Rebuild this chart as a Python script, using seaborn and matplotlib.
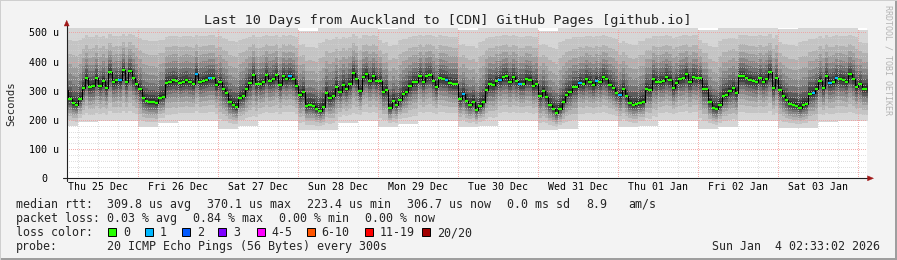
import numpy as np
import matplotlib
matplotlib.use("Agg")
import matplotlib.pyplot as plt
import matplotlib.transforms as mtransforms
from matplotlib.patches import Polygon, Rectangle
from matplotlib.ticker import FixedLocator, MultipleLocator
import seaborn as sns

# ---------------- data ----------------
# hourly median RTT in microseconds; first sample = hour 2 after Thu 25 Dec 00:00
FIRST_HOUR = 2
median_rtt = [
    304, 272, 257, 252, 272, 310, 344, 314, 317, 344,
    317, 334, 310, 365, 330, 336, 336, 372, 330, 368,
    344, 322, 305, 276, 266, 261, 261, 257, 276, 279,
    327, 331, 336, 334, 327, 331, 336, 330, 324, 358,
    330, 334, 338, 344, 344, 320, 330, 307, 293, 262,
    252, 245, 276, 283, 307, 327, 355, 324, 324, 330,
    355, 334, 341, 355, 320, 351, 341, 351, 341, 317,
    286, 297, 249, 252, 249, 238, 232, 245, 293, 276,
    283, 314, 297, 320, 307, 324, 362, 341, 300, 348,
    358, 334, 351, 334, 334, 297, 303, 242, 266, 252,
    269, 290, 297, 317, 331, 331, 351, 331, 351, 355,
    334, 314, 344, 341, 338, 327, 324, 324, 273, 290,
    266, 252, 262, 235, 249, 262, 303, 324, 320, 334,
    338, 348, 351, 331, 348, 334, 324, 324, 341, 338,
    317, 324, 283, 300, 279, 252, 238, 225, 238, 262,
    286, 297, 314, 314, 327, 324, 341, 331, 320, 334,
    331, 348, 341, 320, 310, 293, 286, 307, 283, 259,
    252, 255, 259, 262, 307, 303, 341, 331, 331, 334,
    348, 338, 310, 327, 341, 344, 358, 331, 348, 344,
    344, 307, 307, 262, 242, 238, 252, 283, 286, 300,
    310, 293, 351, 351, 344, 338, 334, 331, 344, 331,
    341, 365, 310, 344, 303, 283, 269, 255, 252, 249,
    242, 252, 255, 290, 293, 307, 334, 310, 351, 327,
    331, 344, 341, 338, 331, 358, 341, 314, 324, 307,
    307,
]
# hours (since Thu 25 Dec 00:00) with 1/20 packets lost
loss_one_hours = [18, 41, 45, 69, 116, 121, 132, 138, 156, 161, 168, 226, 231, 233]

# smoke extent per 6-hour block (lowest / highest ping, microseconds)
smoke_low = [180, 192, 195, 195, 175, 190, 197, 197, 170, 180,
             195, 197, 165, 165, 190, 195, 175, 185, 197, 197,
             175, 180, 197, 197, 165, 170, 195, 195, 175, 180,
             197, 197, 170, 175, 195, 195, 172, 172, 192, 195, 195]
smoke_high = [530, 530, 530, 530, 530, 530, 530, 530, 530, 530,
              530, 530, 505, 530, 530, 530, 512, 530, 530, 530,
              508, 530, 530, 530, 505, 530, 530, 530, 515, 530,
              530, 530, 508, 530, 530, 530, 512, 530, 530, 530, 508]

day_labels = ["Thu 25 Dec", "Fri 26 Dec", "Sat 27 Dec", "Sun 28 Dec", "Mon 29 Dec",
              "Tue 30 Dec", "Wed 31 Dec", "Thu 01 Jan", "Fri 02 Jan", "Sat 03 Jan"]
ytick_values = [0, 100, 200, 300, 400, 500]
ytick_labels = ["0", "100 u", "200 u", "300 u", "400 u", "500 u"]

title = "Last 10 Days from Auckland to [CDN] GitHub Pages [github.io]"
rtt_stats = ["309.8 us avg", "370.1 us max", "223.4 us min", "306.7 us now", "0.0 ms sd", "8.9", "am/s"]
loss_stats = ["0.03 % avg", "0.84 % max", "0.00 % min", "0.00 % now"]
loss_legend = ["0", "1", "2", "3", "4-5", "6-10", "11-19", "20/20"]
loss_colors = ["#26ff00", "#00b8ff", "#0059ff", "#7e00ff", "#ff00ff", "#ff5500", "#ff0000", "#a10000"]
probe_text = "20 ICMP Echo Pings (56 Bytes) every 300s"
stamp_text = "Sun Jan  4 02:33:02 2026"

# ---------------- styling constants ----------------
W, H = 897, 260
sns.set_style("white")
plt.rcParams["font.family"] = ["DejaVu Sans Mono", "DejaVu Sans"]
BG = "#f3f3f3"
MONO = "DejaVu Sans Mono"

def fx(x):
    return x / W

def fy(y):
    return 1 - y / H

fig = plt.figure(figsize=(W / 100, H / 100), dpi=100, facecolor=BG)
AX_L, AX_T, AX_W, AX_H = 66.7, 28.3, 800.0, 150.0
ax = fig.add_axes([fx(AX_L), fy(AX_T + AX_H), AX_W / W, AX_H / H])
ax.set_facecolor("white")
PX_PER_U = 0.292
ax.set_xlim(2.55, 242.55)
ax.set_ylim(0, AX_H / PX_PER_U)

# ---------------- smoke ----------------
med = np.array(median_rtt, dtype=float)
n = len(med)
hours = FIRST_HOUR + np.arange(n)
blk = hours // 6
lo = np.array(smoke_low, dtype=float)[blk]
hi = np.array(smoke_high, dtype=float)[blk]
edges = np.append(hours, hours[-1] + 1)

# relative spread of the ping ranks (outer -> inner) and their shades
frac_lo = [1.0, 0.80, 0.64, 0.51, 0.40, 0.30, 0.21, 0.13, 0.06]
frac_hi = [1.0, 0.78, 0.60, 0.46, 0.34, 0.24, 0.16, 0.09, 0.04]
shades = ["#d6d6d6", "#c4c4c4", "#b1b1b1", "#9d9d9d", "#888888",
          "#727272", "#5b5b5b", "#444444", "#2c2c2c"]
for fl, fh, c in zip(frac_lo, frac_hi, shades):
    lower = med - (med - lo) * fl
    upper = med + (hi - med) * fh
    ax.fill_between(edges, np.append(lower, lower[-1]), np.append(upper, upper[-1]),
                    step="post", color=c, lw=0, zorder=1)

# ---------------- median ----------------
sns.lineplot(x=edges, y=np.append(med, med[-1]), drawstyle="steps-post",
             color="#000000", lw=0.75, estimator=None, sort=False, ax=ax, zorder=4)
seg_colors = [loss_colors[1] if h in loss_one_hours else loss_colors[0] for h in hours]
ax.hlines(med, hours, hours + 1, colors=seg_colors, lw=1.6, zorder=5, capstyle="butt")

# ---------------- grid ----------------
ax.yaxis.set_major_locator(FixedLocator(ytick_values))
ax.yaxis.set_minor_locator(MultipleLocator(20))
ax.xaxis.set_major_locator(FixedLocator(list(range(24, 241, 24))))
ax.xaxis.set_minor_locator(FixedLocator([h for h in range(6, 243, 6) if h % 24]))
ax.set_axisbelow(False)
ax.grid(which="minor", color="#d2d2d2", ls=(0, (1, 2)), lw=0.72, antialiased=False, alpha=0.7)
ax.grid(which="major", color="#f29a9a", ls=(0, (1, 2)), lw=0.72, antialiased=False, alpha=0.8)
ax.set_xticklabels([])
ax.set_yticklabels([])
ax.tick_params(axis="y", which="major", direction="out", length=3, width=0.7, color="#555555")
ax.tick_params(axis="y", which="minor", direction="out", length=2, width=0.7, color="#888888")
ax.tick_params(axis="x", which="major", direction="out", length=3, width=0.7, color="#e08080")
ax.tick_params(axis="x", which="minor", direction="out", length=2, width=0.7, color="#aaaaaa")
for s in ax.spines.values():
    s.set_visible(False)
ax.set_xlabel("")
ax.set_ylabel("")

# y tick labels
ytr = mtransforms.blended_transform_factory(ax.transAxes, ax.transData)
for v, lab in zip(ytick_values, ytick_labels):
    right_px = 47.3 if lab == "0" else 59.3
    ax.text((right_px - AX_L) / AX_W, v, lab, transform=ytr, ha="right",
            va="center_baseline", fontsize=7.2, family=MONO, color="#000000")

# day labels
xtr = mtransforms.blended_transform_factory(ax.transData, ax.transAxes)
for d, lab in enumerate(day_labels):
    ax.text(12 + 24 * d, (AX_T + AX_H - 190.0) / AX_H, lab, transform=xtr,
            ha="center", va="baseline", fontsize=7.1, family=MONO, color="#000000")

# axis lines and arrows (axes fraction coords)
def axf(px, py):
    return ((px - AX_L) / AX_W, (AX_T + AX_H - py) / AX_H)

for (p0, p1) in [((63.0, 178.3), (868.0, 178.3)), ((66.7, 181.0), (66.7, 24.0))]:
    a, b = axf(*p0), axf(*p1)
    ax.plot([a[0], b[0]], [a[1], b[1]], transform=ax.transAxes, clip_on=False,
            color="#202020", lw=0.8, zorder=6)
arrow_col = "#a01818"
ax.add_patch(Polygon([axf(867.5, 175.8), axf(873.5, 178.3), axf(867.5, 180.8)],
                     closed=True, transform=ax.transAxes, clip_on=False,
                     facecolor=arrow_col, edgecolor=arrow_col, lw=0.3, zorder=7))
ax.add_patch(Polygon([axf(64.2, 26.0), axf(66.7, 20.3), axf(69.2, 26.0)],
                     closed=True, transform=ax.transAxes, clip_on=False,
                     facecolor=arrow_col, edgecolor=arrow_col, lw=0.3, zorder=7))

# ---------------- texts ----------------
fig.text(fx(447.3), fy(24.0), title, ha="center", va="baseline", fontsize=9.7, family=MONO)
fig.text(fx(11.0), fy(103.3), "Seconds", rotation=90, ha="center", va="center",
         fontsize=7.6, family=MONO)
fig.text(fx(887.5), fy(60.0), "RRDTOOL / TOBI OETIKER", rotation=270, ha="center",
         va="center", fontsize=6.0, family=MONO, color="#b4b4b4")

LEG_FS = 8.4
rows = [207.6, 221.8, 236.0, 250.2]
fig.text(fx(16), fy(rows[0]), "median rtt:", fontsize=LEG_FS, family=MONO, va="baseline")
for x, t in zip([107.3, 207.3, 307.3, 407.3, 506.7, 586.0, 628.3], rtt_stats):
    fig.text(fx(x), fy(rows[0]), t, fontsize=LEG_FS, family=MONO, va="baseline")
fig.text(fx(16), fy(rows[1]), "packet loss:", fontsize=LEG_FS, family=MONO, va="baseline")
for x, t in zip([107.3, 193.3, 279.3, 365.3], loss_stats):
    fig.text(fx(x), fy(rows[1]), t, fontsize=LEG_FS, family=MONO, va="baseline")
fig.text(fx(16), fy(rows[2]), "loss color:", fontsize=LEG_FS, family=MONO, va="baseline")
box_x = [108.3, 145.0, 181.7, 218.3, 256.7, 306.7, 365.0, 421.7]
for x, lab, c in zip(box_x, loss_legend, loss_colors):
    fig.patches.append(Rectangle((fx(x), fy(235.7)), 8 / W, 8 / H, transform=fig.transFigure,
                                 facecolor=c, edgecolor="#000000", lw=0.7, figure=fig))
    fig.text(fx(x + 15.0), fy(rows[2]), lab, fontsize=LEG_FS, family=MONO, va="baseline")
fig.text(fx(16), fy(rows[3]), "probe:", fontsize=LEG_FS, family=MONO, va="baseline")
fig.text(fx(107.3), fy(rows[3]), probe_text, fontsize=LEG_FS, family=MONO, va="baseline")
fig.text(fx(880.0), fy(rows[3]), stamp_text, fontsize=LEG_FS, family=MONO, va="baseline", ha="right")

# frame shading like rrdtool
fig.patches.append(Rectangle((0, fy(260)), 1, 2 / H, transform=fig.transFigure,
                             facecolor="#9e9e9e", lw=0, figure=fig))
fig.patches.append(Rectangle((fx(895), 0), 2 / W, 1, transform=fig.transFigure,
                             facecolor="#9e9e9e", lw=0, figure=fig))
fig.patches.append(Rectangle((0, fy(1)), 1, 1 / H, transform=fig.transFigure,
                             facecolor="#cfcfcf", lw=0, figure=fig))
fig.patches.append(Rectangle((0, 0), 1 / W, 1, transform=fig.transFigure,
                             facecolor="#cfcfcf", lw=0, figure=fig))

fig.savefig("out.png", dpi=100, facecolor=BG)
